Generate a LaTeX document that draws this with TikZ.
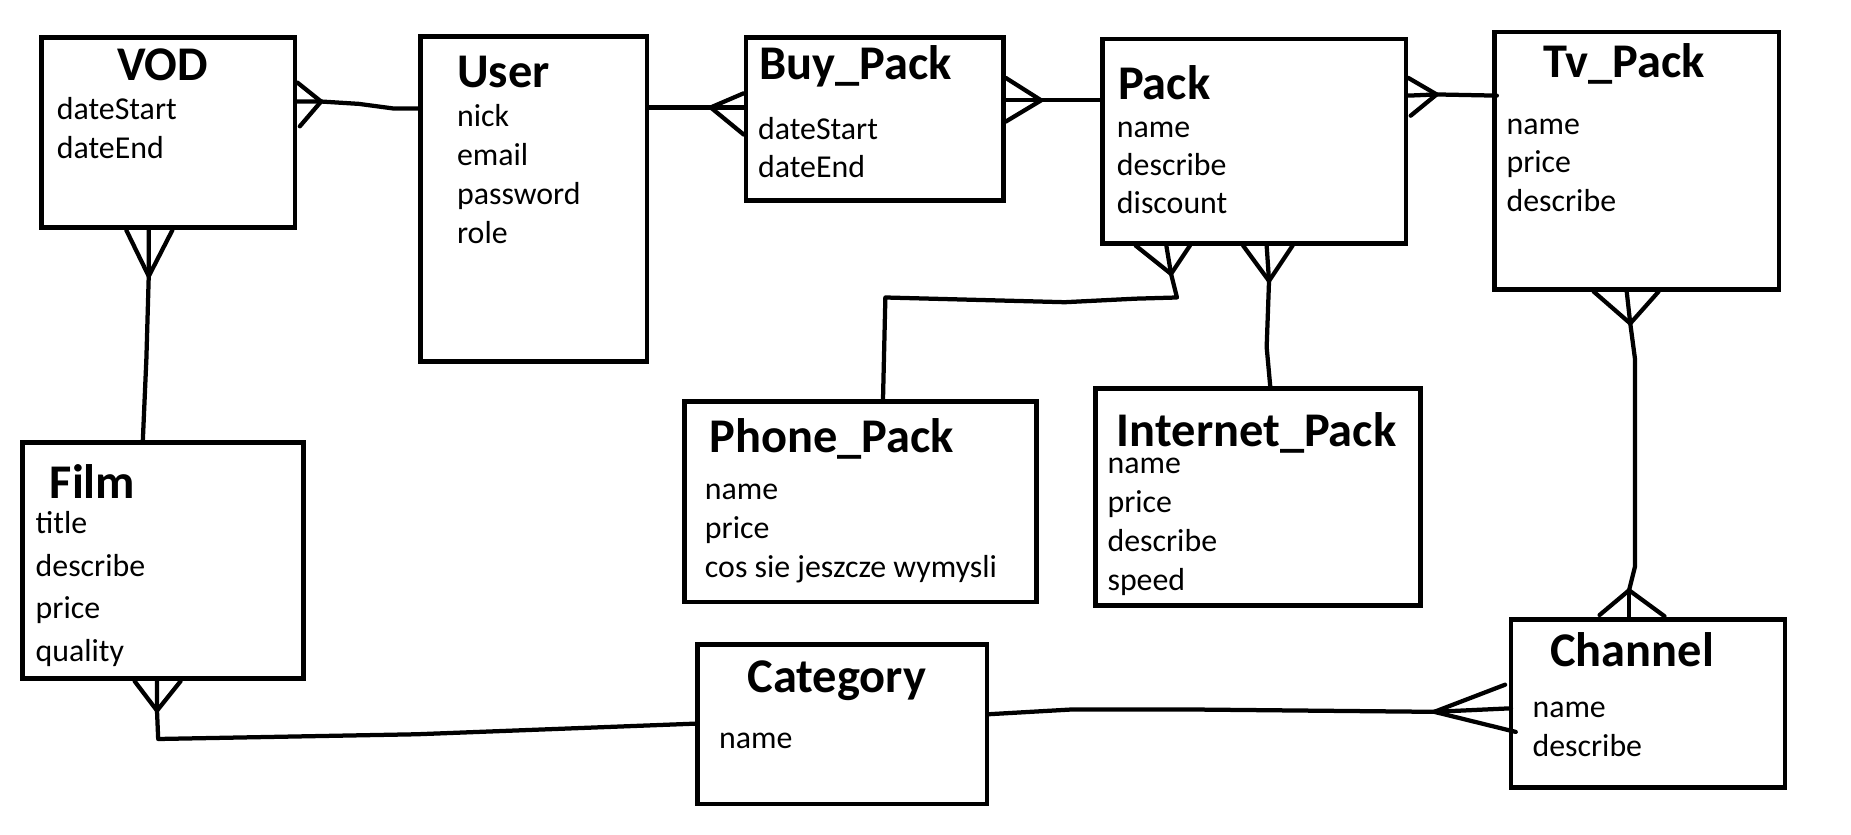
\documentclass[tikz,border=0pt]{standalone}
\usepackage{fontspec}
\setmainfont{Carlito}
\usepackage{tikz}
\usetikzlibrary{calc,positioning}
\tikzset{
  ent/.style={draw, line width=4pt, anchor=north west, inner sep=0pt},
  ttl/.style={anchor=base west, inner sep=0pt, font=\bfseries\fontsize{41}{48}\selectfont},
  attr/.style={anchor=base west, inner sep=0pt, font=\fontsize{27}{33}\selectfont},
  rel/.style={line width=3.6pt, line cap=round, line join=round}
}
\begin{document}
\begin{tikzpicture}[x=1pt,y=-1pt]
    \useasboundingbox (0,0) rectangle (1568,707.3);
    % tables
    \node[ent, minimum width=215pt, minimum height=161pt] (vod) at (33,30) {};
    \node[ent, minimum width=192pt, minimum height=275pt] (user) at (354,29) {};
    \node[ent, minimum width=218pt, minimum height=138pt] (buy) at (630,30) {};
    \node[ent, minimum width=257pt, minimum height=173pt] (pack) at (932,31) {};
    \node[ent, minimum width=241pt, minimum height=218pt] (tv) at (1264,25) {};
    \node[ent, minimum width=298pt, minimum height=170pt] (phone) at (578,338) {};
    \node[ent, minimum width=275pt, minimum height=184pt] (inet) at (926,327) {};
    \node[ent, minimum width=238pt, minimum height=200pt] (film) at (17,373) {};
    \node[ent, minimum width=245pt, minimum height=135pt] (cat) at (589,544) {};
    \node[ent, minimum width=232pt, minimum height=142pt] (chan) at (1278,523) {};

    \node[ttl] (vodT) at ($(vod.north west)+(66,38)$) {VOD};
    \node[ttl] (userT) at ($(user.north west)+(33,45)$) {User};
    \node[ttl] (buyT) at ($(buy.north west)+(13,37)$) {Buy\_Pack};
    \node[ttl] (packT) at ($(pack.north west)+(15,53)$) {Pack};
    \node[ttl] (tvT) at ($(tv.north west)+(43,41)$) {Tv\_Pack};
    \node[ttl] (phoneT) at ($(phone.north west)+(23,45)$) {Phone\_Pack};
    \node[ttl] (inetT) at ($(inet.north west)+(20,51)$) {Internet\_Pack};
    \node[ttl] (filmT) at ($(film.north west)+(25,49)$) {Film};
    \node[ttl] (catT) at ($(cat.north west)+(44,43)$) {Category};
    \node[ttl] (chanT) at ($(chan.north west)+(35,42)$) {Channel};

    \foreach \a [count=\i from 0] in {dateStart,dateEnd}
      \node[attr] (vod-\i) at ($(vod.north west)+(15,71+33*\i)$) {\a};
    \foreach \a [count=\i from 0] in {nick,email,password,role}
      \node[attr] (user-\i) at ($(user.north west)+(33,78.5+33*\i)$) {\a};
    \foreach \a [count=\i from 0] in {dateStart,dateEnd}
      \node[attr] (buy-\i) at ($(buy.north west)+(12,88+32*\i)$) {\a};
    \foreach \a [count=\i from 0] in {name,describe,discount}
      \node[attr] (pack-\i) at ($(pack.north west)+(14,85.5+32.3*\i)$) {\a};
    \foreach \a [count=\i from 0] in {name,price,describe}
      \node[attr] (tv-\i) at ($(tv.north west)+(12,89+32.5*\i)$) {\a};
    \foreach \a [count=\i from 0] in {name,price,cos sie jeszcze wymysli}
      \node[attr] (phone-\i) at ($(phone.north west)+(19,85+33*\i)$) {\a};
    \foreach \a [count=\i from 0] in {name,price,describe,speed}
      \node[attr] (inet-\i) at ($(inet.north west)+(12,74+33*\i)$) {\a};
    \foreach \a [count=\i from 0] in {title,describe,price,quality}
      \node[attr] (film-\i) at ($(film.north west)+(13,79+36*\i)$) {\a};
    \node[attr] (cat-0) at ($(cat.north west)+(20,90)$) {name};
    \foreach \a [count=\i from 0] in {name,describe}
      \node[attr] (chan-\i) at ($(chan.north west)+(20,85+33*\i)$) {\a};

    % VOD - User
    \coordinate (vu) at ($(vod.north east)+(20,56)$);
    \draw[rel] ($(vod.north east)+(0,40)$) -- (vu) -- ($(vod.north east)+(2,77)$);
    \draw[rel] ($(vod.north east)+(0,56)$) -- (vu) -- ($(vu)+(32,2)$) -- ($(vu)+(62,6)$) -- ($(user.north west)+(0,63)$);

    % User - Buy_Pack
    \coordinate (ub) at ($(buy.north west)+(-28,61)$);
    \draw[rel] ($(user.north east)+(0,62)$) -- (ub) -- ($(buy.north west)+(0,61)$);
    \draw[rel] ($(buy.north west)+(0,49)$) -- (ub) -- ($(buy.north west)+(0,84)$);

    % Buy_Pack - Pack
    \coordinate (bp) at ($(buy.north east)+(30,55)$);
    \draw[rel] ($(buy.north east)+(0,36)$) -- (bp) -- ($(buy.north east)+(0,73)$);
    \draw[rel] ($(buy.north east)+(0,55)$) -- (bp) -- ($(pack.north west)+(0,54)$);

    % Pack - Tv_Pack
    \coordinate (pt) at ($(pack.north east)+(24,49)$);
    \draw[rel] ($(pack.north east)+(0,35)$) -- (pt) -- ($(pack.north east)+(2,67)$);
    \draw[rel] ($(pack.north east)+(0,50)$) -- (pt) -- ($(tv.north west)+(4,56)$);

    % VOD - Film
    \coordinate (vf) at ($(vod.south west)+(93,39)$);
    \draw[rel] ($(vod.south west)+(74,0)$) -- (vf) -- ($(vod.south west)+(113,0)$);
    \draw[rel] ($(vod.south west)+(93,0)$) -- (vf) -- ($(vf)+(-2,70)$) -- ($(film.north west)+(104,0)$);

    % Pack - Phone_Pack
    \coordinate (pph) at ($(pack.south west)+(60,24)$);
    \draw[rel] ($(pack.south west)+(30,0)$) -- (pph) -- ($(pack.south west)+(76,0)$);
    \draw[rel] ($(pack.south west)+(56,0)$) -- (pph) -- ($(pph)+(5,20)$) -- ($(pph)+(-30,21)$)
      -- ($(pph)+(-90,24)$) -- ($(phone.north west)+(172,-86)$) -- ($(phone.north west)+(170,0)$);

    % Pack - Internet_Pack
    \coordinate (pin) at ($(pack.south west)+(143,30)$);
    \draw[rel] ($(pack.south west)+(121,0)$) -- (pin) -- ($(pack.south west)+(163,0)$);
    \draw[rel] ($(pack.south west)+(141,0)$) -- (pin) -- ($(pin)+(-2,56)$) -- ($(inet.north west)+(150,0)$);

    % Tv_Pack - Channel
    \coordinate (tc1) at ($(tv.south west)+(117,27)$);
    \coordinate (tc2) at ($(chan.north west)+(102,-23)$);
    \draw[rel] ($(tv.south west)+(86,0)$) -- (tc1) -- ($(tv.south west)+(141,0)$);
    \draw[rel] ($(tv.south west)+(114,0)$) -- (tc1) -- ($(tc1)+(4,30)$) -- ($(tc2)+(5,-20)$) -- (tc2);
    \draw[rel] ($(chan.north west)+(77,-2)$) -- (tc2) -- ($(chan.north west)+(132,-1)$);
    \draw[rel] (tc2) -- ($(chan.north west)+(102,0)$);

    % Film - Category
    \coordinate (fc) at ($(film.south west)+(116,25)$);
    \draw[rel] ($(film.south west)+(97,0)$) -- (fc) -- ($(film.south west)+(136,0)$);
    \draw[rel] ($(film.south west)+(116,0)$) -- (fc) -- ($(fc)+(1,24)$) -- ($(fc)+(220,20)$) -- ($(cat.north west)+(0,69)$);

    % Category - Channel
    \coordinate (cc) at ($(chan.north west)+(-63,80)$);
    \draw[rel] ($(cat.north east)+(0,61)$) -- ($(cat.north east)+(70,57)$) -- ($(cat.north east)+(170,57)$) -- (cc);
    \draw[rel] ($(chan.north west)+(-3,57)$) -- (cc) -- ($(chan.north west)+(6,97)$);
    \draw[rel] (cc) -- ($(chan.north west)+(2,77)$);
\end{tikzpicture}
\end{document}
